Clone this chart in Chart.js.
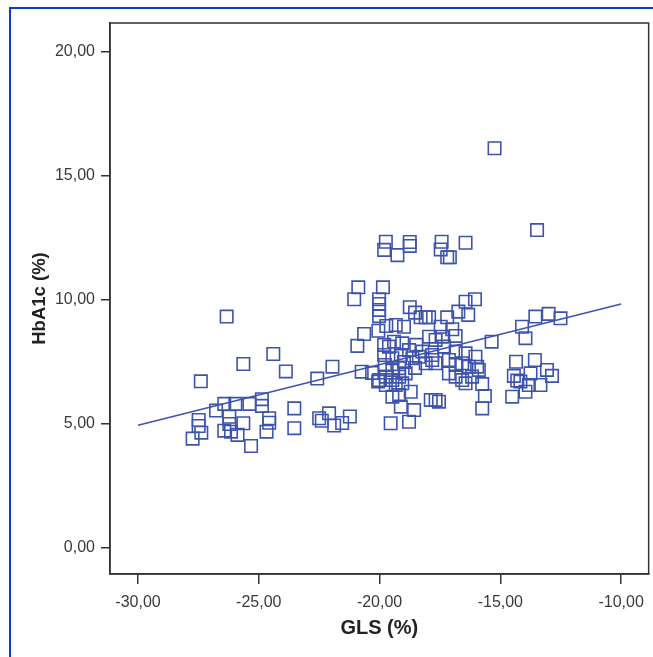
<!DOCTYPE html>
<html>
<head>
<meta charset="utf-8">
<script src="https://cdn.jsdelivr.net/npm/chart.js@4/dist/chart.umd.min.js"></script>
<style>
  html, body { margin: 0; padding: 0; background: #fff; }
  #wrap { width: 653px; height: 657px; }
</style>
</head>
<body>
<div id="wrap"><canvas id="myChart" width="653" height="657"></canvas></div>
<script>
// datos (GLS % vs HbA1c %)
const gls = [
  -26.33, -24.40, -25.64, -23.88, -27.40, -22.58, -21.95, -26.43, -25.97, -25.39,
  -24.87, -24.87, -26.77, -26.22, -27.49, -27.49, -27.38, -27.74, -26.22, -26.43,
  -25.64, -25.88, -26.15, -25.32, -24.57, -24.57, -24.68, -23.53, -23.53, -22.50,
  -22.39, -22.09, -21.88, -21.55, -21.23, -20.74, -20.31, -20.06,
  -19.74, -19.81, -19.26, -18.75, -18.75, -20.88, -19.86, -21.05, -20.02, -20.02,
  -20.02, -20.02, -18.75, -18.53, -18.30, -18.09, -17.95, -19.33, -18.99, -19.72,
  -20.64, -20.05, -20.92, -19.81, -19.61, -19.40, -19.06, -18.78, -18.48, -18.23,
  -17.95, -17.68, -19.81, -19.47, -19.12, -18.64, -18.37, -18.09, -17.82, -20.02,
  -19.74, -19.47, -19.19, -18.92, -19.47, -19.19, -19.74, -19.33, -19.06, -19.47,
  -19.19, -18.71, -19.12, -18.57, -17.88, -17.68, -19.54, -18.78, -18.99, -18.53,
  -19.78,
  -17.43, -17.47, -17.20, -17.09, -16.44, -16.05, -16.44, -16.74, -16.33, -17.20,
  -17.47, -16.99, -16.85, -17.40, -15.36, -14.10, -13.96, -13.55, -17.33, -16.85,
  -16.44, -17.82, -17.68, -17.13, -16.85, -16.58, -16.30, -15.96, -15.89, -17.13,
  -16.85, -16.58, -16.44, -16.17, -15.75, -15.64, -15.75, -17.54, -14.35, -14.44,
  -14.51, -14.17, -13.75, -13.82, -13.57, -13.48, -13.00, -12.51, -13.07, -12.86,
  -13.34, -13.96, -15.24, -14.30, -16.03
];
const hba1c = [
  9.33, 7.82, 7.42, 7.12, 6.72, 6.83, 7.31, 5.81, 5.81, 5.81,
  6.00, 5.73, 5.54, 5.29, 5.16, 4.92, 4.65, 4.41, 5.00, 4.73,
  5.03, 4.56, 4.69, 4.11, 5.23, 5.05, 4.69, 5.63, 4.83, 5.23,
  5.13, 5.43, 4.94, 5.04, 5.30, 7.11, 7.06, 6.71,
  12.35, 12.02, 11.81, 12.34, 12.18, 10.51, 10.51, 10.03, 10.03, 9.84,
  9.60, 9.35, 9.71, 9.49, 9.30, 9.30, 9.30, 8.99, 8.92, 8.95,
  8.63, 8.76, 8.15, 8.19, 8.12, 8.32, 8.25, 7.98, 8.19, 7.92,
  8.52, 8.39, 7.78, 7.65, 7.78, 7.65, 7.71, 7.45, 7.58, 6.77,
  6.91, 6.77, 6.91, 7.04, 7.18, 7.25, 6.57, 6.57, 6.64, 6.10,
  6.17, 6.30, 5.70, 5.56, 5.97, 5.97, 5.03, 5.09, 7.50, 7.26,
  7.38,
  12.35, 12.04, 11.72, 11.72, 12.31, 10.03, 9.93, 9.53, 9.40, 9.30,
  8.92, 8.82, 8.55, 8.52, 8.32, 8.92, 8.46, 9.33, 8.12, 7.92,
  7.85, 7.78, 7.45, 7.58, 7.38, 7.45, 7.31, 7.31, 7.18, 7.04,
  6.91, 6.77, 6.64, 6.91, 6.61, 6.13, 5.63, 5.90, 7.51, 6.94,
  6.10, 6.71, 7.04, 6.57, 7.58, 12.82, 9.44, 9.26, 7.18, 6.94,
  6.57, 6.30, 16.12, 6.75, 7.71
];
// recta de regresion
const fitX = [-30, -10];
const fitY = [4.95, 9.84];
// marcas de los ejes
const xTicks = [-30, -25, -20, -15, -10];
const yTicks = [0, 5, 10, 15, 20];

const azul = "#3d53ad";
const fuente = "'Liberation Sans', Arial, sans-serif";

function coma(v) {
    return v.toFixed(2).replace(".", ",");
}

const puntos = gls.map((x, i) => ({ x: x, y: hba1c[i] }));
const recta = fitX.map((x, i) => ({ x: x, y: fitY[i] }));

// marco azul y caja del grafico
const marco = {
    id: "marco",
    beforeDraw(chart) {
        const ctx = chart.ctx;
        ctx.save();
        ctx.fillStyle = "#fff";
        ctx.fillRect(0, 0, chart.width, chart.height);
        ctx.fillStyle = "#0b3bd0";
        ctx.fillRect(9, 7, chart.width - 9, 2);
        ctx.fillRect(9, 7, 2, chart.height - 7);
        ctx.restore();
    },
    afterDraw(chart) {
        const a = chart.chartArea;
        const ctx = chart.ctx;
        ctx.save();
        ctx.strokeStyle = "#333";
        ctx.lineWidth = 1.5;
        ctx.strokeRect(a.left, a.top, a.right - a.left, a.bottom - a.top);
        ctx.restore();
    }
};

const config = {
    type: "scatter",
    data: {
        datasets: [
            {
                data: puntos,
                pointStyle: "rect",
                pointRadius: 8.8,
                pointBorderWidth: 1.6,
                borderColor: azul,
                backgroundColor: "rgba(0,0,0,0)",
                order: 2
            },
            {
                data: recta,
                showLine: true,
                pointRadius: 0,
                borderColor: azul,
                borderWidth: 1.5,
                order: 1
            }
        ]
    },
    options: {
        responsive: false,
        animation: false,
        events: [],
        layout: { padding: { top: 23, right: 4, left: 0, bottom: 0 }, autoPadding: false },
        plugins: { legend: { display: false }, tooltip: { enabled: false } },
        scales: {
            x: {
                type: "linear",
                min: -31.16,
                max: -8.86,
                afterBuildTicks: (s) => { s.ticks = xTicks.map(v => ({ value: v })); },
                afterFit: (s) => { s.height = 83; },
                border: { display: true, color: "#333", width: 1.5 },
                grid: { drawOnChartArea: false, drawTicks: true, tickLength: 10, color: "#333", lineWidth: 1.5 },
                ticks: { callback: (v) => coma(v), color: "#3a3a3a", padding: 9, maxRotation: 0,
                         font: { family: fuente, size: 16 } },
                title: { display: true, text: "GLS (%)", color: "#222",
                         font: { family: fuente, size: 20, weight: "bold" },
                         padding: { top: 0, bottom: 17 } }
            },
            y: {
                type: "linear",
                min: -1.05,
                max: 21.17,
                afterBuildTicks: (s) => { s.ticks = yTicks.map(v => ({ value: v })); },
                afterFit: (s) => { s.width = 110; },
                border: { display: true, color: "#333", width: 1.5 },
                grid: { drawOnChartArea: false, drawTicks: true, tickLength: 9, color: "#333", lineWidth: 1.5 },
                ticks: { callback: (v) => coma(v), color: "#3a3a3a", padding: 6,
                         font: { family: fuente, size: 16 } },
                title: { display: true, text: "HbA1c (%)", color: "#222",
                         font: { family: fuente, size: 18.5, weight: "bold" },
                         padding: { top: 29, bottom: 0 } }
            }
        }
    },
    plugins: [marco]
};

const chartDOM = document.getElementById("myChart");
window.grafica = new Chart(chartDOM, config);
</script>
</body>
</html>
